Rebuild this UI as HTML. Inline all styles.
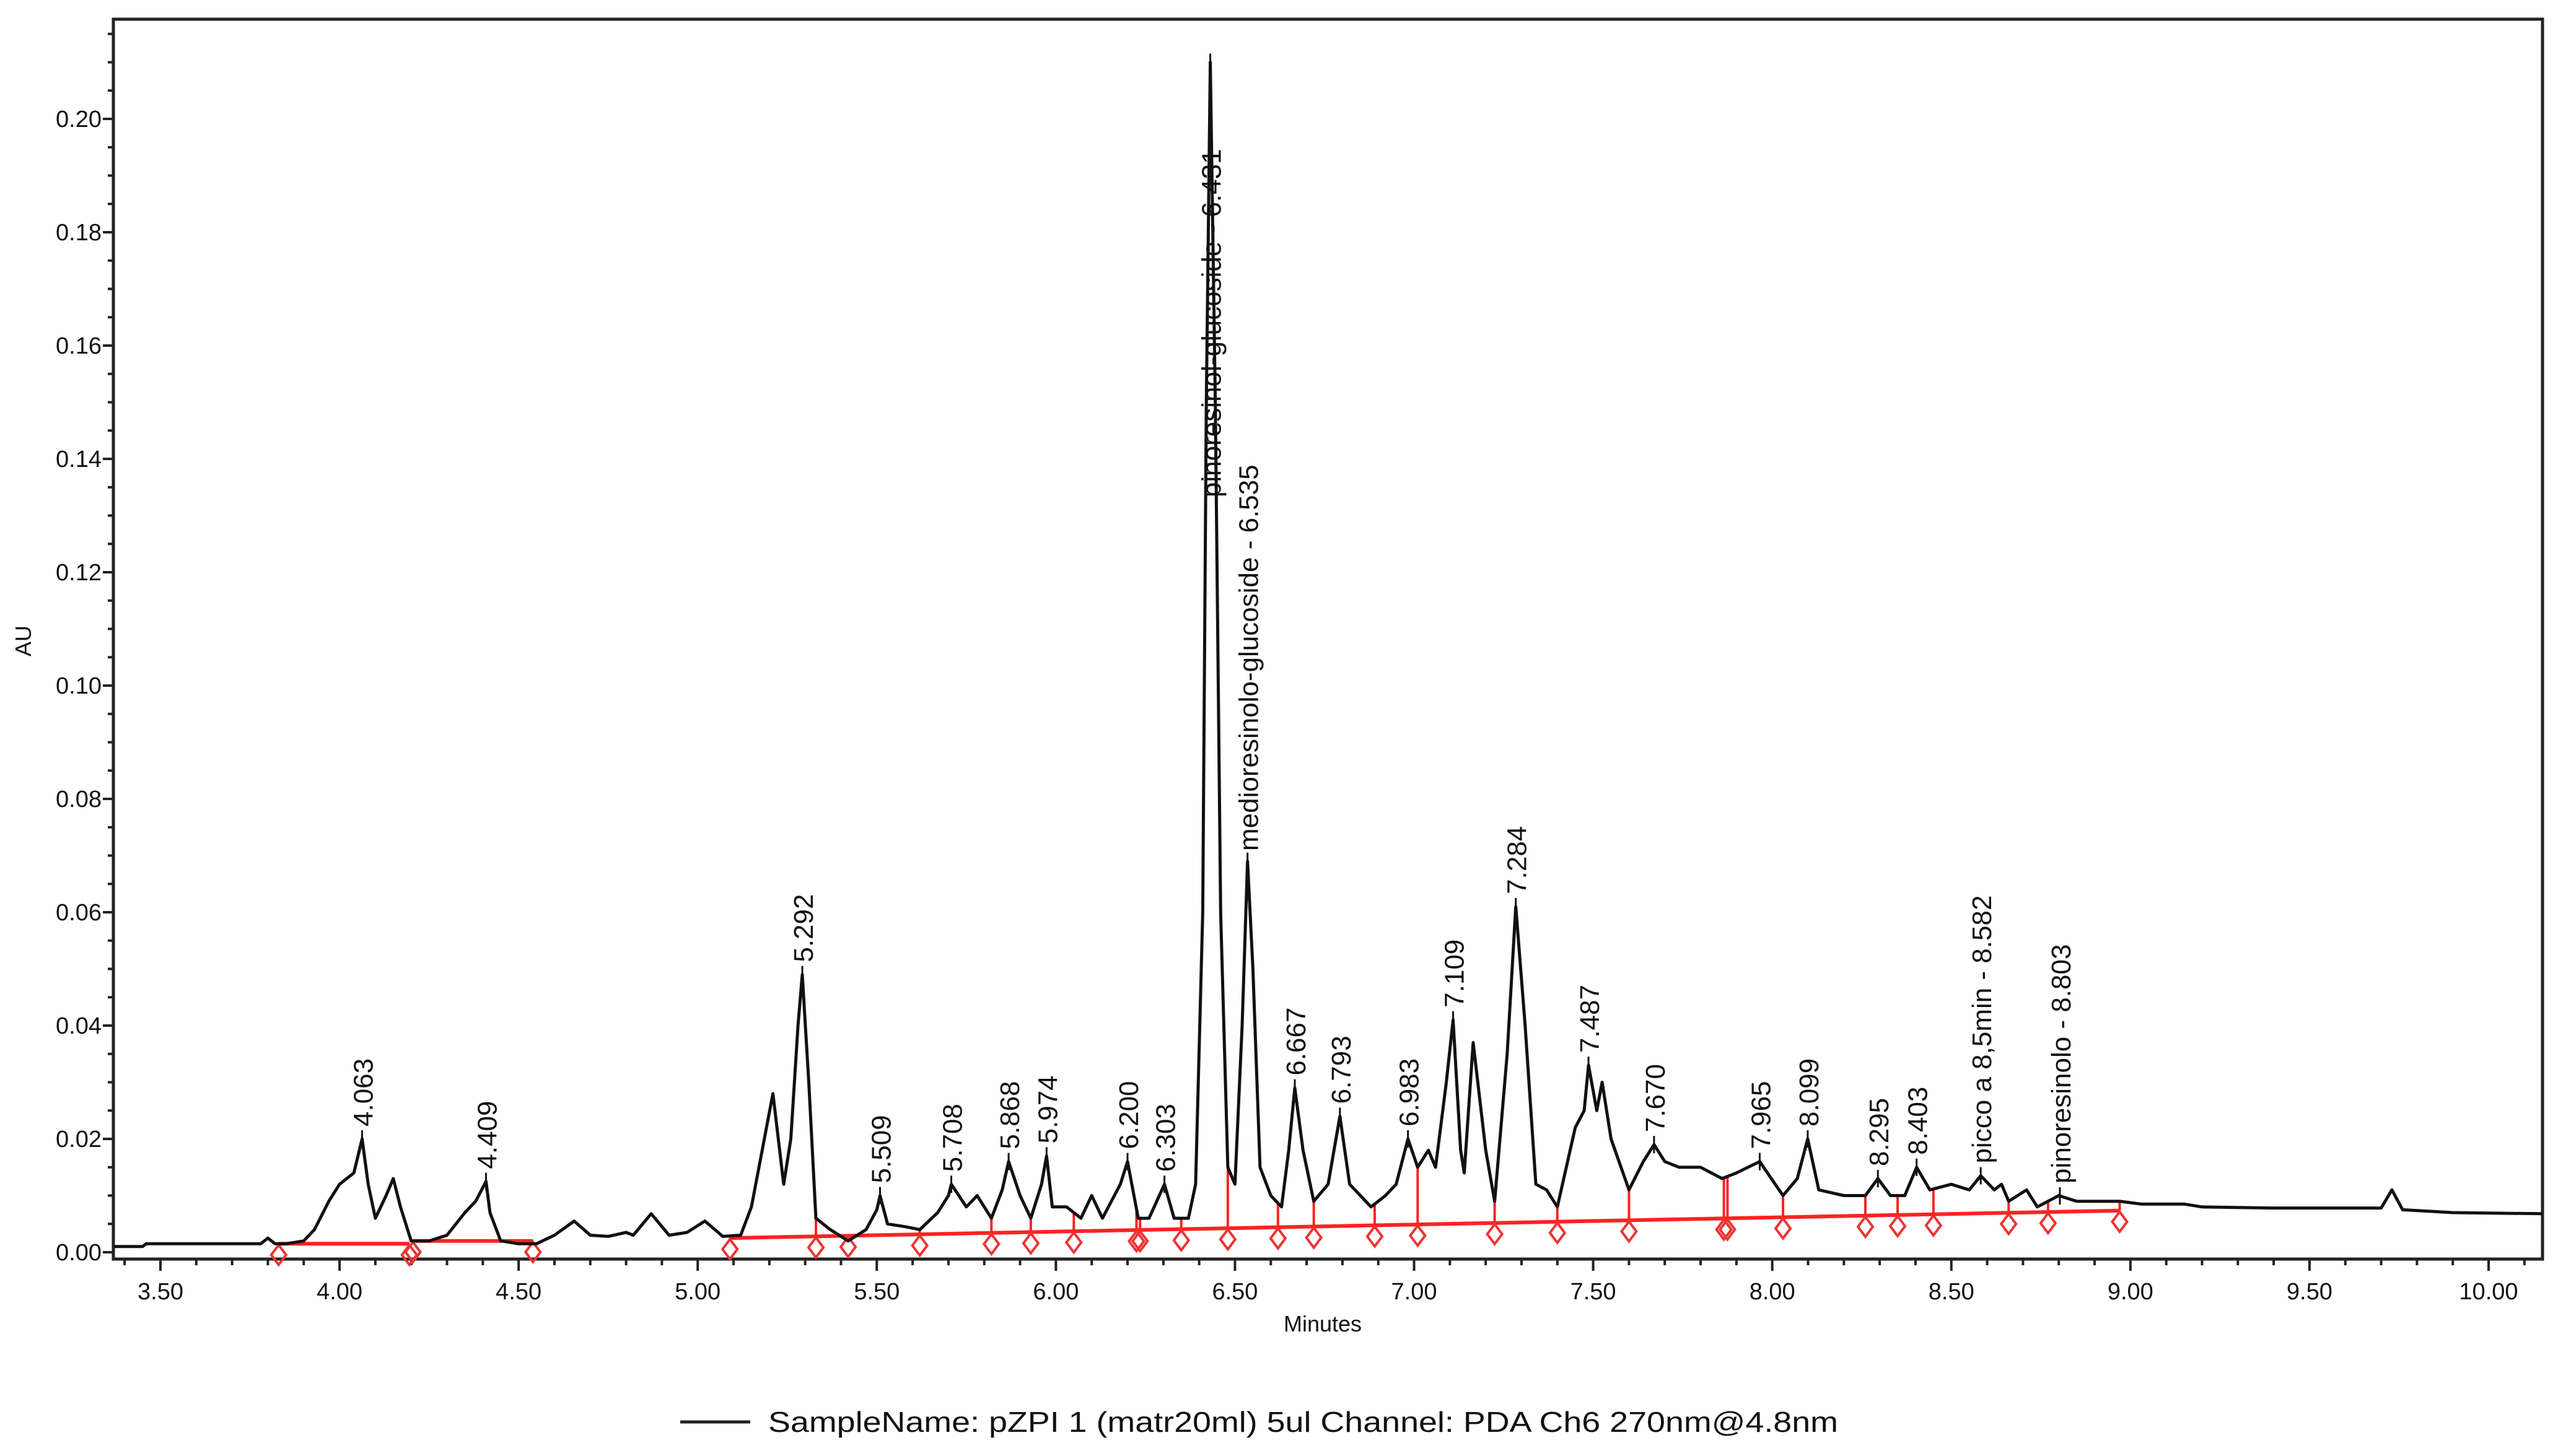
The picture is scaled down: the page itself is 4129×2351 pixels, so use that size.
<!DOCTYPE html>
<html><head><meta charset="utf-8"><style>
html,body{margin:0;padding:0;background:#fff}
svg{display:block;font-family:"Liberation Sans",Arial,sans-serif}
</style></head><body>
<svg id="chart" width="4129" height="2351" viewBox="0 0 4129 2351" xmlns="http://www.w3.org/2000/svg">
<rect x="183" y="31" width="3921" height="2002" fill="none" stroke="#222" stroke-width="5"/>
<g id="axes"></g>
<g id="baseline"></g>
<g id="trace"></g>
<g id="labels"></g>
<text x="2135" y="2150" font-size="36" text-anchor="middle" fill="#111">Minutes</text>
<text x="0" y="0" font-size="36" text-anchor="middle" fill="#111" transform="translate(50,1035) rotate(-90)">AU</text>
<line x1="1098" y1="2296" x2="1211" y2="2296" stroke="#222" stroke-width="5"/>
<text x="1240" y="2312" font-size="46" fill="#111" textLength="1727" lengthAdjust="spacingAndGlyphs">SampleName: pZPI 1 (matr20ml) 5ul Channel: PDA Ch6 270nm@4.8nm</text>
</svg>
<script>
const xTicks = ["3.50","4.00","4.50","5.00","5.50","6.00","6.50","7.00","7.50","8.00","8.50","9.00","9.50","10.00"];
const yTicks = ["0.00","0.02","0.04","0.06","0.08","0.10","0.12","0.14","0.16","0.18","0.20"];
const times = [3.37,3.45,3.46,3.78,3.80,3.82,3.85,3.90,3.93,3.97,4.00,4.04,4.063,4.08,4.10,4.13,4.15,4.17,4.20,4.25,4.30,4.35,4.38,4.409,4.42,4.45,4.50,4.55,4.60,4.655,4.70,4.75,4.80,4.82,4.87,4.92,4.97,5.02,5.07,5.12,5.15,5.18,5.21,5.24,5.26,5.28,5.292,5.31,5.33,5.37,5.42,5.47,5.50,5.509,5.53,5.58,5.62,5.67,5.70,5.708,5.75,5.78,5.82,5.85,5.868,5.90,5.93,5.96,5.974,5.99,6.03,6.07,6.10,6.13,6.18,6.20,6.23,6.26,6.303,6.33,6.37,6.39,6.41,6.42,6.431,6.445,6.46,6.48,6.50,6.52,6.535,6.55,6.57,6.60,6.63,6.65,6.667,6.69,6.72,6.76,6.793,6.82,6.85,6.88,6.92,6.95,6.983,7.01,7.04,7.06,7.09,7.109,7.13,7.14,7.165,7.20,7.225,7.26,7.284,7.31,7.34,7.37,7.40,7.45,7.475,7.487,7.51,7.525,7.55,7.60,7.64,7.670,7.70,7.74,7.80,7.86,7.90,7.965,8.03,8.07,8.099,8.13,8.20,8.26,8.295,8.33,8.37,8.403,8.44,8.50,8.55,8.582,8.62,8.64,8.66,8.71,8.74,8.80,8.85,8.90,8.97,9.03,9.15,9.20,9.40,9.50,9.70,9.73,9.76,9.90,10.15];
const au = [0.001,0.001,0.0015,0.0015,0.0025,0.0015,0.0015,0.002,0.004,0.009,0.012,0.014,0.020,0.012,0.006,0.010,0.013,0.008,0.002,0.002,0.003,0.007,0.009,0.0125,0.007,0.002,0.0015,0.0015,0.003,0.0055,0.003,0.0028,0.0035,0.003,0.0068,0.003,0.0035,0.0055,0.0028,0.003,0.008,0.018,0.028,0.012,0.020,0.040,0.049,0.030,0.006,0.004,0.002,0.004,0.0075,0.010,0.005,0.0045,0.004,0.007,0.010,0.012,0.008,0.010,0.006,0.011,0.016,0.010,0.006,0.012,0.017,0.008,0.008,0.006,0.010,0.006,0.012,0.016,0.006,0.006,0.012,0.006,0.006,0.012,0.060,0.150,0.210,0.150,0.060,0.015,0.012,0.040,0.069,0.050,0.015,0.010,0.008,0.018,0.029,0.018,0.009,0.012,0.024,0.012,0.010,0.008,0.010,0.012,0.020,0.015,0.018,0.015,0.030,0.041,0.018,0.014,0.037,0.018,0.009,0.035,0.061,0.040,0.012,0.011,0.008,0.022,0.025,0.033,0.025,0.030,0.020,0.011,0.016,0.019,0.016,0.015,0.015,0.013,0.014,0.016,0.010,0.013,0.020,0.011,0.010,0.010,0.013,0.010,0.010,0.015,0.011,0.012,0.011,0.0135,0.011,0.012,0.009,0.011,0.008,0.010,0.009,0.009,0.009,0.0085,0.0085,0.008,0.0078,0.0078,0.0078,0.011,0.0075,0.007,0.0068];
const peakTimes = [4.063,4.409,5.292,5.509,5.708,5.868,5.974,6.200,6.303,6.431,6.535,6.667,6.793,6.983,7.109,7.284,7.487,7.670,7.965,8.099,8.295,8.403,8.582,8.803];
const peakLabels = ["4.063","4.409","5.292","5.509","5.708","5.868","5.974","6.200","6.303","pinoresinol-glucoside - 6.431","medioresinolo-glucoside - 6.535","6.667","6.793","6.983","7.109","7.284","7.487","7.670","7.965","8.099","8.295","8.403","picco a 8,5min - 8.582","pinoresinolo - 8.803"];
const dropTimes = [5.09,5.33,5.42,5.62,5.82,5.93,6.05,6.225,6.235,6.35,6.48,6.62,6.72,6.89,7.01,7.225,7.40,7.60,7.865,7.875,8.03,8.26,8.35,8.45,8.66,8.77,8.97];
const earlyDrops = [3.83,4.195,4.205,4.54];
const earlyBase = [0.0015,0.0015,0.0020,0.0020];

const NS="http://www.w3.org/2000/svg";
const X = t => 259 + (t-3.5)*578.15;
const Y = v => 2022 - v*9150;
function mk(tag, parent, attrs){const e=document.createElementNS(NS,tag);for(const k in attrs)e.setAttribute(k,attrs[k]);parent.appendChild(e);return e;}
function val(t){for(let i=0;i<times.length-1;i++){if(t>=times[i]&&t<=times[i+1]){const f=(t-times[i])/(times[i+1]-times[i]);return au[i]+f*(au[i+1]-au[i]);}}return au[au.length-1];}
function base(t){return 0.0025+(t-5.09)*0.00125;}

const axes=document.getElementById('axes');
xTicks.forEach(s=>{const t=parseFloat(s);const x=X(t);
 const l=mk('line',axes,{x1:x,y1:2033,x2:x,y2:2052,stroke:'#222','stroke-width':4});
 
 
 const tx=mk('text',axes,{x:x,y:2098,'font-size':38,'text-anchor':'middle',fill:'#111'});tx.textContent=s;
 
 
});
for(let t=3.4;t<10.16;t+=0.1){const r=Math.round(t*10)/10;if(Math.abs(r*2-Math.round(r*2))<1e-6)continue;const x=X(r);
 const l=mk('line',axes,{x1:x,y1:2033,x2:x,y2:2043,stroke:'#222','stroke-width':4});
 
 }
yTicks.forEach(s=>{const v=parseFloat(s);const y=Y(v);
 const l=mk('line',axes,{x1:166,y1:y,x2:183,y2:y,stroke:'#222','stroke-width':4});
 
 
 const tx=mk('text',axes,{x:164,y:y+13,'font-size':38,'text-anchor':'end',fill:'#111'});tx.textContent=s;
 
 
});
for(let k=1;k<=43;k++){const v=k*0.005;if(k%4===0)continue;const y=Y(v);if(y<35)continue;
 const l=mk('line',axes,{x1:174,y1:y,x2:183,y2:y,stroke:'#222','stroke-width':4});
 
 }

const bl=document.getElementById('baseline');
function diamond(t,v){const x=X(t),y=Y(v)+18;const d=mk('path',bl,{d:`M${x} ${y-16}L${x+12} ${y}L${x} ${y+16}L${x-12} ${y}Z`,fill:'none',stroke:'#e33','stroke-width':4});
 
 }
for(let i=0;i<earlyDrops.length-1;i++){if(i===1)continue;
 const l=mk('line',bl,{x1:X(earlyDrops[i]),y1:Y(earlyBase[i]),x2:X(earlyDrops[i+1]),y2:Y(earlyBase[i+1]),stroke:'#f22','stroke-width':6});
 
 }
earlyDrops.forEach((t,i)=>diamond(t,earlyBase[i]));
let pts=dropTimes.map(t=>`${X(t)},${Y(base(t))}`).join(' ');
const pl=mk('polyline',bl,{points:pts,fill:'none',stroke:'#f22','stroke-width':6});


dropTimes.forEach(t=>{const l=mk('line',bl,{x1:X(t),y1:Y(base(t)),x2:X(t),y2:Y(val(t)),stroke:'#f22','stroke-width':4});
 
 
 diamond(t,base(t));});

const tr=document.getElementById('trace');
const line=mk('polyline',tr,{points:times.map((t,i)=>`${X(t).toFixed(1)},${Y(au[i]).toFixed(1)}`).join(' '),fill:'none',stroke:'#111','stroke-width':5,'stroke-linejoin':'round'});



const lg=document.getElementById('labels');
peakTimes.forEach((t,i)=>{const x=X(t),y=Y(val(t));
 const m=mk('line',lg,{x1:x,y1:y-14,x2:x,y2:y+14,stroke:'#111','stroke-width':3});
 
 
 const lab=peakLabels[i];
 let yy=y-20;if(i===9)yy=803;if(i===10)yy=1374;
 const tx=mk('text',lg,{x:0,y:0,'font-size':44,fill:'#111',transform:`translate(${x+17},${yy}) rotate(-90)`});
 tx.textContent=lab;
 
 
});
</script>
</body></html>
